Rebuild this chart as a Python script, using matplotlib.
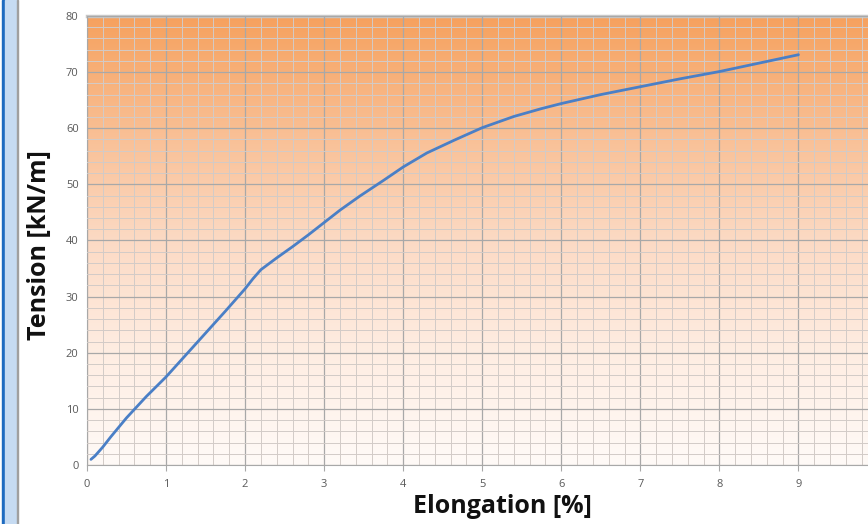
import numpy as np
import matplotlib
matplotlib.use("Agg")
import matplotlib.pyplot as plt
from matplotlib.colors import LinearSegmentedColormap
from matplotlib.patches import Rectangle

elong = [0.05, 0.1, 0.2, 0.3, 0.4, 0.5, 0.75, 1.0, 1.25, 1.5, 1.75, 2.0, 2.1, 2.2, 2.4, 2.6, 2.8, 3.0, 3.2, 3.45, 3.75, 4.0, 4.3, 4.65, 5.0, 5.4, 5.75, 6.0, 6.5, 7.0, 7.5, 8.0, 8.5, 9.0]
tension = [1.0, 1.6, 3.2, 5.0, 6.7, 8.4, 12.2, 15.7, 19.6, 23.5, 27.4, 31.4, 33.2, 34.8, 36.9, 38.9, 41.0, 43.2, 45.4, 47.9, 50.7, 53.1, 55.6, 57.9, 60.1, 62.1, 63.5, 64.4, 66.0, 67.4, 68.8, 70.1, 71.6, 73.1]
xticks = list(range(0, 10))
yticks = list(range(0, 81, 10))

plt.rcParams['font.family'] = ['Open Sans', 'DejaVu Sans']
fig = plt.figure(figsize=(8.68, 5.24), dpi=100)

# left window decoration
fig.patches.append(Rectangle((2/868, 0), 3/868, 1, transform=fig.transFigure, color='#1E6BC0', zorder=0))
fig.patches.append(Rectangle((5/868, 0), 11.5/868, 1, transform=fig.transFigure, color='#C6DBF2', zorder=0))
fig.patches.append(Rectangle((16.5/868, 0), 1.2/868, 1, transform=fig.transFigure, color='#A0A0A0', zorder=0))

ax = fig.add_axes([87/868, 59/524, 790.5/868, 449/524])
ax.set_xlim(0, 10)
ax.set_ylim(0, 80)

cmap = LinearSegmentedColormap.from_list('bg', [(0, '#FFFAF7'), (0.25, '#FEEDE2'), (0.5, '#FCDAC4'),
                                                (0.75, '#F9BE92'), (1, '#F6A15E')])
grad = np.linspace(0, 1, 256).reshape(-1, 1)
ax.imshow(grad, aspect='auto', cmap=cmap, extent=[0, 10, 0, 80], origin='lower', zorder=0)

ax.set_xticks(xticks)
ax.set_yticks(yticks)
ax.set_xticks(np.arange(0, 10.01, 0.2), minor=True)
ax.set_yticks(np.arange(0, 80.01, 2), minor=True)
ax.grid(which='major', color='#A8A8A8', linewidth=0.9, zorder=1)
ax.grid(which='minor', color='#D2CBC7', linewidth=0.7, zorder=1)
ax.set_axisbelow(False)

ax.plot(elong, tension, color='#4A7FC6', linewidth=2.0, zorder=3, solid_capstyle='round')

for s in ['top', 'right']:
    ax.spines[s].set_visible(False)
ax.spines['left'].set_color('#A8A8A8')
ax.spines['bottom'].set_color('#A8A8A8')
ax.tick_params(which='both', length=0)
ax.tick_params(which='major', labelsize=8, labelcolor='#595959', pad=6)
ax.tick_params(axis='x', which='major', length=4, color='#A8A8A8', direction='out')

# top shadow
ax.plot([0, 10], [80, 80], color='#C8C8C8', linewidth=2.5, clip_on=False, zorder=2)

ax.set_xlabel('Elongation [%]', fontsize=18, fontweight='bold', color='#111111', labelpad=4)
ax.xaxis.set_label_coords(0.525, -0.065)
ax.set_ylabel('Tension [kN/m]', fontsize=18, fontweight='bold', color='#111111')
ax.yaxis.set_label_coords(-0.044, 0.49)

fig.savefig('out.png', dpi=100)
